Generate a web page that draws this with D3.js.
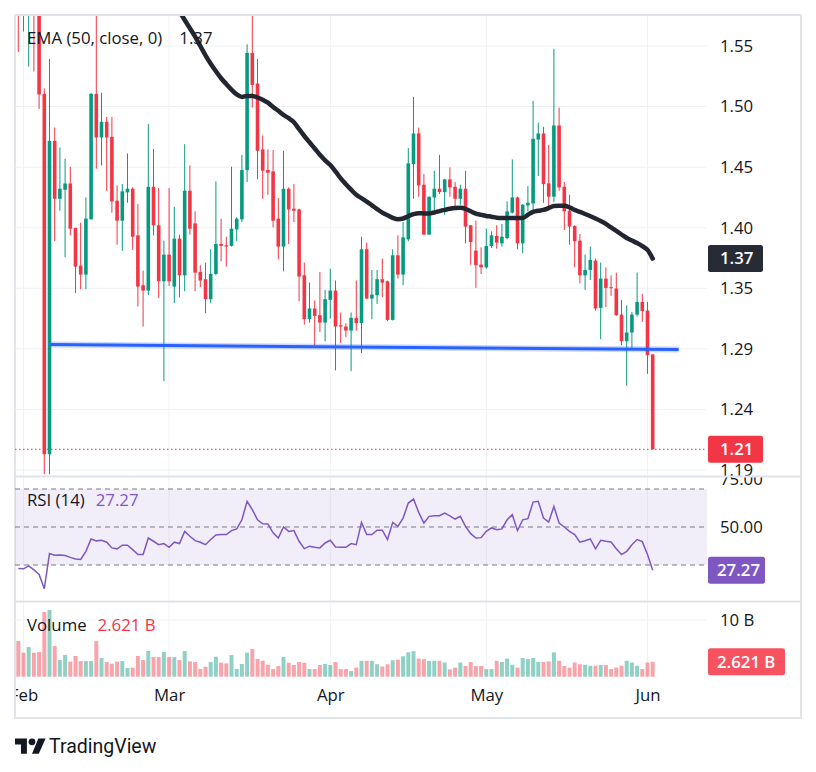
<!DOCTYPE html>
<html><head><meta charset="utf-8">
<script src="https://cdn.jsdelivr.net/npm/d3@7"></script>
<style>
body{margin:0;background:#fff;}
svg{display:block;font-family:"Open Sans",Roboto,sans-serif;}
</style>
</head><body>
<svg id="c" width="816" height="772"></svg>
<script>
// ---------------- DATA ----------------
const startDate = "2025-01-31";
const opens = [1.63,1.60,1.59,1.61,1.585,1.5105,1.213,1.4717,1.4239,1.4313,
1.4365,1.3998,1.3687,1.3613,1.4069,1.5105,1.4745,1.4874,1.475,1.4223,
1.4058,1.4292,1.4322,1.3937,1.3525,1.3481,1.4338,1.402,1.3558,1.3778,
1.3514,1.391,1.3607,1.4305,1.4036,1.3635,1.3575,1.341,1.3619,1.3866,
1.3855,1.385,1.3986,1.4069,1.4476,1.5443,1.519,1.4646,1.4476,1.4465,
1.4075,1.3844,1.4322,1.4157,1.4151,1.3607,1.3245,1.3333,1.3278,1.3217,
1.3404,1.3481,1.3195,1.3184,1.3151,1.3256,1.3212,1.3822,1.3415,1.3443,
1.3575,1.3558,1.3239,1.3772,1.3613,1.3904,1.4525,1.4778,1.4355,1.3943,
1.425,1.4322,1.4294,1.4399,1.4338,1.4239,1.4322,1.402,1.3811,1.3695,
1.3673,1.3849,1.3932,1.3871,1.3915,1.4124,1.425,1.3871,1.4184,1.42,
1.4728,1.4778,1.4366,1.4256,1.4844,1.4338,1.414,1.4014,1.3893,1.3607,
1.3651,1.3728,1.3338,1.358,1.3509,1.3498,1.3283,1.3063,1.3135,1.3283,
1.3388,1.3316,1.2954];
const highs = [1.66,1.62,1.63,1.63,1.60,1.515,1.5393,1.4827,1.4662,1.457,
1.4503,1.40,1.4042,1.425,1.5113,1.58,1.5113,1.4915,1.4915,1.4349,
1.436,1.4613,1.4333,1.4195,1.3646,1.4855,1.4651,1.4327,1.3893,1.4327,
1.4173,1.3943,1.469,1.4514,1.4135,1.369,1.3712,1.3822,1.4382,1.4075,
1.3926,1.4503,1.4086,1.4602,1.5514,1.58,1.5393,1.4761,1.4646,1.464,
1.4245,1.4635,1.4333,1.436,1.4157,1.3712,1.3547,1.3399,1.3635,1.3487,
1.3662,1.3564,1.33,1.3212,1.33,1.3564,1.3926,1.3877,1.3651,1.3651,
1.3745,1.3564,1.3822,1.3937,1.4047,1.4657,1.508,1.4827,1.4443,1.4256,
1.447,1.4602,1.4404,1.4498,1.4377,1.4355,1.447,1.402,1.4058,1.3838,
1.3992,1.397,1.402,1.4031,1.4217,1.4564,1.4256,1.4195,1.4344,1.5047,
1.4866,1.4833,1.4684,1.5476,1.4992,1.4377,1.4272,1.402,1.3948,1.3778,
1.3844,1.3745,1.3712,1.3673,1.3607,1.3629,1.3404,1.336,1.3305,1.3629,
1.3454,1.3388,1.2954];
const lows = [1.545,1.562,1.533,1.529,1.498,1.1965,1.1965,1.3888,1.414,1.3756,
1.3937,1.346,1.3492,1.3492,1.4069,1.4487,1.4514,1.4305,1.4124,1.386,
1.381,1.4206,1.3816,1.335,1.3184,1.3443,1.3937,1.3421,1.2734,1.352,
1.3377,1.3426,1.3476,1.3943,1.3476,1.3509,1.3294,1.3377,1.3607,1.3723,
1.3679,1.3844,1.3888,1.4047,1.4377,1.4992,1.44,1.4239,1.4272,1.4003,
1.374,1.364,1.3866,1.4047,1.3393,1.32,1.3217,1.303,1.314,1.3063,
1.325,1.2822,1.3047,1.3097,1.2816,1.3151,1.2965,1.341,1.3245,1.3371,
1.3426,1.3228,1.3234,1.358,1.3525,1.3888,1.4239,1.4256,1.3943,1.3943,
1.414,1.4278,1.4107,1.4256,1.4157,1.419,1.3871,1.3695,1.3503,1.3618,
1.3662,1.3833,1.3827,1.3844,1.3904,1.4118,1.3822,1.3789,1.4135,1.4135,
1.4426,1.4206,1.414,1.4212,1.4305,1.3981,1.386,1.3673,1.3541,1.3487,
1.3569,1.3316,1.308,1.3344,1.3437,1.3272,1.303,1.2695,1.2997,1.3267,
1.3223,1.2794,1.2171];
const closes = [1.60,1.59,1.61,1.585,1.51,1.213,1.4717,1.4239,1.4322,1.4365,
1.3992,1.3679,1.3613,1.4075,1.5105,1.4745,1.4874,1.4745,1.4217,1.4058,
1.43,1.4322,1.3926,1.3514,1.3481,1.4338,1.402,1.3558,1.3778,1.3558,
1.391,1.3607,1.4305,1.3992,1.3629,1.3564,1.341,1.3619,1.3866,1.385,
1.3844,1.3992,1.4075,1.4476,1.5443,1.5179,1.4635,1.447,1.4454,1.4058,
1.3844,1.4322,1.4151,1.414,1.3597,1.3245,1.3333,1.3272,1.3217,1.341,
1.3481,1.3184,1.3184,1.3151,1.3256,1.3212,1.3822,1.3415,1.3448,1.3575,
1.3547,1.3239,1.3772,1.3613,1.3921,1.4531,1.4778,1.4349,1.3943,1.4256,
1.4322,1.4294,1.4399,1.4333,1.4239,1.4322,1.4009,1.3882,1.369,1.3673,
1.3849,1.3937,1.3877,1.3926,1.4135,1.425,1.3871,1.419,1.4206,1.4734,
1.4778,1.436,1.4256,1.4844,1.4333,1.4135,1.4009,1.3888,1.3607,1.3651,
1.3734,1.3333,1.358,1.3503,1.3503,1.3278,1.3063,1.3135,1.3283,1.3388,
1.3311,1.2948,1.2171];
// volume in billions
const volumes = [6.29,4.24,5.24,4.24,4.35,11.41,11.76,5.41,2.94,3.82,
2.65,3.65,2.76,2.76,2.76,6.29,3.29,2.59,2.29,2.65,
2.76,1.53,1.59,3.65,2.94,4.53,3.47,3.47,4.35,3.47,
3.47,2.94,4.53,2.71,2.59,1.35,1.76,2.59,3.53,2.47,
2.35,3.82,1.35,2.24,4.24,4.88,3.12,2.82,2.12,1.35,
1.88,3.47,2.47,2.06,2.59,2.47,1.35,1.35,2.06,2.24,
2.06,2.59,1.35,1.35,1.0,1.6,2.8,2.8,2.8,2.2,
1.8,2.2,2.9,3.0,3.6,4.3,4.5,3.2,3.1,2.8,
2.8,2.8,2.5,1.3,1.6,2.5,1.9,2.6,1.9,1.9,
1.35,1.35,2.8,2.6,3.2,2.1,1.6,3.3,3.1,3.3,
2.6,2.6,2.7,4.3,2.8,1.9,1.6,2.5,2.2,2.1,
1.94,1.94,2.06,2.06,1.35,1.6,1.94,2.8,2.5,1.94,
1.35,2.5,2.621];
const rsiValues = [28.1,28.0,29.5,27.4,25.0,17.5,36.0,35.1,35.3,35.0,
34.0,33.2,32.9,37.2,43.7,42.7,43.0,42.0,39.0,38.5,
40.4,40.4,38.1,35.5,35.5,44.2,42.5,40.7,41.3,39.3,
42.0,41.3,47.7,45.1,42.8,42.0,40.7,43.4,45.8,46.0,
46.0,48.1,49.0,53.8,63.5,59.1,53.8,51.7,51.6,46.9,
44.2,50.0,47.7,48.1,42.5,38.6,39.9,39.3,39.0,41.6,
43.0,39.5,39.3,39.3,41.3,40.7,52.4,46.0,46.0,48.3,
48.3,43.4,52.4,50.3,54.7,62.6,64.7,57.7,52.1,55.6,
55.9,55.9,57.3,55.9,54.2,55.6,50.3,46.5,44.2,44.4,
47.7,49.5,48.6,49.0,53.8,56.5,48.1,53.8,54.4,63.1,
63.5,54.7,52.6,60.8,52.1,50.0,47.7,46.0,42.0,42.8,
43.7,38.5,43.0,42.5,42.1,38.6,35.5,37.2,40.7,43.4,
42.3,35.5,27.27];
const emaStartIndex = 30;
const emaValues = [1.5853,1.5784,1.5715,1.5646,1.5577,1.550,1.5423,1.5354,1.5292,1.5234,
1.5186,1.514,1.510,1.508,1.5088,1.5088,1.5075,1.5056,1.5032,1.4997,
1.4965,1.4931,1.4904,1.4871,1.4813,1.4757,1.4705,1.4654,1.4602,1.4556,
1.4518,1.4465,1.4407,1.4359,1.4314,1.4272,1.4244,1.4216,1.4185,1.4154,
1.4125,1.4103,1.4082,1.407,1.4076,1.4095,1.4112,1.412,1.4118,1.4118,
1.4126,1.4137,1.4147,1.4156,1.4162,1.4164,1.4155,1.4136,1.4116,1.4106,
1.4097,1.4091,1.4083,1.408,1.408,1.408,1.408,1.408,1.4107,1.4131,
1.414,1.4147,1.4163,1.418,1.4181,1.4181,1.4168,1.4147,1.4131,1.4113,
1.4095,1.4076,1.4055,1.4031,1.4002,1.3973,1.3944,1.3915,1.3894,1.3873,
1.3848,1.3817,1.3745];
const supportDates = ["2025-02-06","2025-06-07"];
const supportValues = [1.3035,1.2995];
const monthTicks = ["2025-02-01","2025-03-01","2025-04-01","2025-05-01","2025-06-01"];
const monthLabels = ["Feb","Mar","Apr","May","Jun"];
const priceTicks = [1.55,1.50,1.45,1.40,1.35,1.30,1.25,1.20];
const priceTickLabels = ["1.55","1.50","1.45","1.40","1.35","1.29","1.24","1.19"];
const rsiTicks = [75,50];
const rsiTickLabels = ["75.00","50.00"];
const rsiBands = [70,50,30];
const volumeTicks = [10];
const volumeTickLabels = ["10 B"];
const emaLegend = "EMA (50, close, 0)", emaLabel = "1.37";
const lastPriceLabel = "1.21";
const rsiLegend = "RSI (14)", rsiLabel = "27.27";
const volumeLegend = "Volume", volumeLabel = "2.621 B";

// ---------------- SETUP ----------------
const svg = d3.select("#c");
const UP = "#089981", DOWN = "#f23645";
const VUP = "rgba(8,153,129,0.45)", VDOWN = "rgba(242,54,69,0.45)";
const TXT = "#131722";
const FS = 16.8;
const L = 15, R = 707, FR = 801;
const start = new Date(startDate + "T00:00:00Z");
const dates = closes.map((_, i) => d3.utcDay.offset(start, i));
const data = dates.map((d, i) => ({d, o: opens[i], h: highs[i], l: lows[i], c: closes[i], v: volumes[i], rsi: rsiValues[i],
  ema: i >= emaStartIndex ? emaValues[i - emaStartIndex] : null}));

const x = d3.scaleUtc().domain([dates[0], dates[dates.length - 1]]).range([18.3, 652.7]);
const y = d3.scaleLinear().domain([1.20, 1.55]).range([470, 46]);
const yr = d3.scaleLinear().domain([30, 70]).range([565, 489]);
const yv = d3.scaleLinear().domain([0, 10]).range([676.7, 620]);

const defs = svg.append("defs");
function clip(id, x0, y0, w, h) {
  defs.append("clipPath").attr("id", id).append("rect").attr("x", x0).attr("y", y0).attr("width", w).attr("height", h);
}
clip("cm", L, 16, R - L, 460);
clip("cr", L, 477, R - L, 124);
clip("cv", L, 602, R - L, 78);
clip("cam", R, 16, FR - R, 460);
clip("car", R, 477.5, FR - R, 123);
clip("cx", 16, 680, R - 16, 37);

// frame
svg.append("rect").attr("x", 15).attr("y", 15).attr("width", 786).attr("height", 703)
  .attr("fill", "none").attr("stroke", "#e3e4ea").attr("stroke-width", 2);

// vertical month grid
const monthDates = monthTicks.map(s => new Date(s + "T00:00:00Z"));
svg.append("g").selectAll("line").data(monthDates).join("line")
  .attr("x1", d => x(d)).attr("x2", d => x(d)).attr("y1", 16).attr("y2", 680)
  .attr("stroke", "#f0f1f5").attr("stroke-width", 1);

// horizontal grids
svg.append("g").selectAll("line").data(priceTicks).join("line")
  .attr("x1", L).attr("x2", R).attr("y1", d => y(d)).attr("y2", d => y(d))
  .attr("stroke", "#f0f1f5").attr("stroke-width", 1).attr("clip-path", "url(#cm)");
svg.append("g").selectAll("line").data(volumeTicks).join("line")
  .attr("x1", L).attr("x2", R).attr("y1", d => yv(d)).attr("y2", d => yv(d))
  .attr("stroke", "#f0f1f5").attr("stroke-width", 1);

// ---------------- MAIN PANE ----------------
const gm = svg.append("g").attr("clip-path", "url(#cm)");
gm.append("line").attr("x1", L).attr("x2", R).attr("y1", y(closes[closes.length - 1])).attr("y2", y(closes[closes.length - 1]))
  .attr("stroke", DOWN).attr("stroke-width", 1).attr("stroke-dasharray", "1.5,2.5");
const cg = gm.append("g").selectAll("g").data(data).join("g");
cg.append("line").attr("x1", d => x(d.d)).attr("x2", d => x(d.d)).attr("y1", d => y(d.h)).attr("y2", d => y(d.l))
  .attr("stroke", d => d.c >= d.o ? UP : DOWN).attr("stroke-width", 1);
cg.append("rect").attr("x", d => x(d.d) - 1.8).attr("width", 3.6)
  .attr("y", d => y(Math.max(d.o, d.c))).attr("height", d => Math.max(1, Math.abs(y(d.o) - y(d.c))))
  .attr("fill", d => d.c >= d.o ? UP : DOWN);
gm.append("path").datum(data.filter(d => d.ema != null))
  .attr("d", d3.line().x(d => x(d.d)).y(d => y(d.ema)).curve(d3.curveMonotoneX))
  .attr("fill", "none").attr("stroke", "#222631").attr("stroke-width", 4.5)
  .attr("stroke-linejoin", "round").attr("stroke-linecap", "round");
const sup = supportDates.map((s, i) => ({d: new Date(s + "T00:00:00Z"), v: supportValues[i]}));
gm.append("path").datum(sup).attr("d", d3.line().x(d => x(d.d)).y(d => y(d.v)))
  .attr("stroke", "rgba(41,98,255,0.25)").attr("stroke-width", 6).attr("fill", "none");
gm.append("path").datum(sup).attr("d", d3.line().x(d => x(d.d)).y(d => y(d.v)))
  .attr("stroke", "#2962ff").attr("stroke-width", 3).attr("fill", "none");

const lg = svg.append("text").attr("x", 27).attr("y", 44).attr("font-size", FS).attr("fill", TXT);
lg.append("tspan").text(emaLegend);
lg.append("tspan").attr("dx", 17).text(emaLabel);

function rightAxis(scale, ticks, labels, clipId) {
  const outer = svg.append("g");
  if (clipId) outer.attr("clip-path", `url(#${clipId})`);
  const g = outer.append("g").attr("transform", `translate(${R},0)`)
    .call(d3.axisRight(scale).tickValues(ticks).tickFormat((d, i) => labels[i]).tickSize(0).tickPadding(13));
  g.select(".domain").remove();
  g.selectAll("text").attr("font-size", FS).attr("fill", TXT).attr("font-family", '"Open Sans",Roboto,sans-serif');
}
rightAxis(y, priceTicks, priceTickLabels, "cam");

function valueBox(yy, w, fill, label, tx) {
  svg.append("rect").attr("x", 708).attr("y", yy - 13.5).attr("width", w).attr("height", 27).attr("rx", 2.5).attr("fill", fill);
  svg.append("text").attr("x", tx || 720).attr("y", yy).attr("dy", "0.35em").attr("font-size", FS)
    .attr("font-weight", 600).attr("fill", "#fff").text(label);
}
valueBox(y(emaValues[emaValues.length - 1]), 55, "#272b35", emaLabel);
valueBox(y(closes[closes.length - 1]), 55, "#f23645", lastPriceLabel);

// ---------------- RSI PANE ----------------
svg.append("line").attr("x1", 15).attr("x2", FR).attr("y1", 476.5).attr("y2", 476.5).attr("stroke", "#e0e3eb").attr("stroke-width", 2);
const gr = svg.append("g").attr("clip-path", "url(#cr)");
gr.append("rect").attr("x", L).attr("width", R - L).attr("y", yr(70)).attr("height", yr(30) - yr(70))
  .attr("fill", "rgba(126,87,194,0.1)");
gr.selectAll(".band").data(rsiBands).join("line").attr("class", "band")
  .attr("x1", L).attr("x2", R).attr("y1", d => yr(d)).attr("y2", d => yr(d))
  .attr("stroke", "#787b86").attr("stroke-width", 1).attr("stroke-dasharray", "5,4");
gr.append("path").datum(data).attr("d", d3.line().x(d => x(d.d)).y(d => yr(d.rsi)))
  .attr("fill", "none").attr("stroke", "#7e57c2").attr("stroke-width", 1.5);
const rl = svg.append("text").attr("x", 27).attr("y", 506).attr("font-size", FS).attr("fill", TXT);
rl.append("tspan").text(rsiLegend);
rl.append("tspan").attr("dx", 11).attr("fill", "#7e57c2").text(rsiLabel);
rightAxis(yr, rsiTicks, rsiTickLabels, "car");
valueBox(yr(rsiValues[rsiValues.length - 1]), 57, "#7e57c2", rsiLabel, 717);

// ---------------- VOLUME PANE ----------------
svg.append("line").attr("x1", 15).attr("x2", FR).attr("y1", 601.5).attr("y2", 601.5).attr("stroke", "#e0e3eb").attr("stroke-width", 2);
const gv = svg.append("g").attr("clip-path", "url(#cv)");
gv.selectAll("rect").data(data).join("rect")
  .attr("x", d => x(d.d) - 2).attr("width", 4)
  .attr("y", d => yv(d.v)).attr("height", d => yv(0) - yv(d.v))
  .attr("fill", d => d.c >= d.o ? VUP : VDOWN);
const vl = svg.append("text").attr("x", 27).attr("y", 631).attr("font-size", FS).attr("fill", TXT);
vl.append("tspan").text(volumeLegend);
vl.append("tspan").attr("dx", 11).attr("fill", "#f23645").text(volumeLabel);
rightAxis(yv, volumeTicks, volumeTickLabels, null);
svg.append("rect").attr("x", 708).attr("y", yv(volumes[volumes.length - 1]) - 13.5).attr("width", 77).attr("height", 27).attr("rx", 2.5).attr("fill", "#f7525f");
svg.append("text").attr("x", 717).attr("y", yv(volumes[volumes.length - 1])).attr("dy", "0.35em").attr("font-size", FS)
  .attr("font-weight", 600).attr("fill", "#fff").text(volumeLabel);

// ---------------- TIME AXIS ----------------
const xo = svg.append("g").attr("clip-path", "url(#cx)");
const xa = xo.append("g").attr("transform", "translate(0,687)")
  .call(d3.axisBottom(x).tickValues(monthDates).tickFormat((d, i) => monthLabels[i]).tickSize(0).tickPadding(2));
xa.select(".domain").remove();
xa.selectAll("text").attr("font-size", FS).attr("fill", TXT).attr("font-family", '"Open Sans",Roboto,sans-serif');

// ---------------- LOGO ----------------
const logo = svg.append("g").attr("transform", "translate(15,732.5) scale(0.85)").attr("fill", TXT);
logo.append("path").attr("d", "M14 25H7V14H0V7h14v18z");
logo.append("circle").attr("cx", 20).attr("cy", 11).attr("r", 4);
logo.append("path").attr("d", "M28 25h-8l7.5-18H36l-8 18z");
svg.append("text").attr("x", 49).attr("y", 753).attr("font-size", 19.5).attr("fill", TXT)
  .attr("font-family", "Roboto,sans-serif").text("TradingView");
</script>
</body></html>
